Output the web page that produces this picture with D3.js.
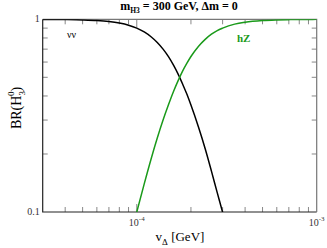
<!DOCTYPE html>
<html><head><meta charset="utf-8">
<script src="https://cdn.jsdelivr.net/npm/d3@7"></script>
<style>body{margin:0;background:#fff}svg{display:block}</style>
</head><body>
<script>
const vDelta = [3e-5,4e-5,5e-5,6e-5,7e-5,8e-5,9e-5,1e-4,1.1e-4,1.2e-4,1.3e-4,1.4e-4,1.5e-4,1.6e-4,1.7e-4,1.8e-4,1.9e-4,2e-4,2.2e-4,2.4e-4,2.6e-4,2.8e-4,3e-4,3.5e-4,4e-4,5e-4,6e-4,7e-4,8e-4,9e-4,1e-3];
const brNuNu = [0.999,0.997,0.993,0.986,0.974,0.956,0.932,0.900,0.860,0.812,0.758,0.700,0.640,0.578,0.518,0.460,0.408,0.359,0.277,0.213,0.163,0.126,0.0996,0.056,0.034,0.014,0.0069,0.0037,0.0022,0.0014,0.0009];
const brHZ = [0.001,0.003,0.007,0.014,0.026,0.044,0.068,0.100,0.140,0.188,0.242,0.300,0.360,0.422,0.482,0.540,0.592,0.641,0.723,0.787,0.837,0.874,0.900,0.944,0.966,0.986,0.993,0.996,0.998,0.9986,0.9991];
const xTickLabels = [1e-4, 1e-3];
const yTickLabels = ["0.1","1"];

const W=327,H=248, m={l:42.7,r:10.3,t:19.3,b:36};
const svg=d3.select("body").append("svg").attr("width",W).attr("height",H);
const x=d3.scaleLog().domain([3e-5,1e-3]).range([m.l,W-m.r]);
const y=d3.scaleLog().domain([0.1,1]).range([H-m.b,m.t]);
const serif="'Liberation Serif','DejaVu Serif',serif";

svg.append("defs").append("clipPath").attr("id","c").append("rect")
 .attr("x",m.l).attr("y",m.t).attr("width",W-m.l-m.r).attr("height",H-m.t-m.b);

const minorX=[4e-5,5e-5,6e-5,7e-5,8e-5,9e-5,2e-4,3e-4,4e-4,5e-4,6e-4,7e-4,8e-4,9e-4];
const minorY=[0.2,0.3,0.4,0.5,0.6,0.7,0.8,0.9];
const tc="#888";
const g=svg.append("g");
minorX.forEach(v=>{
 g.append("line").attr("x1",x(v)).attr("x2",x(v)).attr("y1",y(0.1)).attr("y2",y(0.1)-5).attr("stroke",tc);
 g.append("line").attr("x1",x(v)).attr("x2",x(v)).attr("y1",y(1)).attr("y2",y(1)+5).attr("stroke",tc);
});
[1e-4].forEach(v=>{
 g.append("line").attr("x1",x(v)).attr("x2",x(v)).attr("y1",y(0.1)).attr("y2",y(0.1)-8).attr("stroke",tc);
 g.append("line").attr("x1",x(v)).attr("x2",x(v)).attr("y1",y(1)).attr("y2",y(1)+8).attr("stroke",tc);
});
minorY.forEach(v=>{
 g.append("line").attr("y1",y(v)).attr("y2",y(v)).attr("x1",x(3e-5)).attr("x2",x(3e-5)+5).attr("stroke",tc);
 g.append("line").attr("y1",y(v)).attr("y2",y(v)).attr("x1",x(1e-3)).attr("x2",x(1e-3)-5).attr("stroke",tc);
});
g.append("path").attr("d",`M${m.l},${m.t}V${H-m.b}H${W-m.r}`).attr("fill","none").attr("stroke","#222").attr("stroke-width",1.2);
g.append("path").attr("d",`M${m.l},${m.t}H${W-m.r}V${H-m.b}`).attr("fill","none").attr("stroke","#777").attr("stroke-width",1.2);

const line=(arr)=>d3.line().x((d,i)=>x(vDelta[i])).y(d=>y(Math.max(d,0.05))).curve(d3.curveMonotoneX)(arr);
const lg=svg.append("g").attr("clip-path","url(#c)");
lg.append("path").attr("d",line(brNuNu)).attr("fill","none").attr("stroke","#000").attr("stroke-width",1.5);
lg.append("path").attr("d",line(brHZ)).attr("fill","none").attr("stroke","#1a9a1a").attr("stroke-width",1.5);

svg.append("text").attr("x",m.l-3).attr("y",y(1)+3).attr("text-anchor","end").attr("font-family",serif).attr("font-size",10).attr("fill","#333").text(yTickLabels[1]);
svg.append("text").attr("x",m.l-3).attr("y",y(0.1)+3).attr("text-anchor","end").attr("font-family",serif).attr("font-size",10).attr("fill","#333").text(yTickLabels[0]);
xTickLabels.forEach(v=>{
 const t=svg.append("text").attr("x",x(v)).attr("y",H-m.b+14).attr("text-anchor","middle").attr("font-family",serif).attr("font-size",10).attr("fill","#333");
 t.append("tspan").text("10");
 t.append("tspan").attr("dy",-5).attr("font-size",7).text("-"+Math.round(-Math.log10(v)));
});
const tt=svg.append("text").attr("x",179).attr("y",10).attr("text-anchor","middle").attr("font-family",serif).attr("font-size",12).attr("font-weight","bold");
tt.append("tspan").text("m");
tt.append("tspan").attr("font-size",7.5).attr("dy",3).text("H3");
tt.append("tspan").attr("dy",-3).text(" = 300 GeV, \u0394m = 0");
const xl=svg.append("text").attr("x",180).attr("y",241).attr("text-anchor","middle").attr("font-family",serif).attr("font-size",13);
xl.append("tspan").text("v");
xl.append("tspan").attr("font-size",9).attr("dy",4).text("\u0394");
xl.append("tspan").attr("dy",-4).text(" [GeV]");
const yl=svg.append("text").attr("transform","translate(21,108) rotate(-90)").attr("text-anchor","middle").attr("font-family",serif).attr("font-size",14);
yl.append("tspan").text("BR(H");
yl.append("tspan").attr("font-size",9).attr("dy",4).text("3");
yl.append("tspan").attr("font-size",9).attr("dx",-5).attr("dy",-11).text("0");
yl.append("tspan").attr("dy",7).text(")");
svg.append("text").attr("x",67).attr("y",38).attr("font-family",serif).attr("font-size",10).text("\u03bd\u03bd");
svg.append("text").attr("x",237).attr("y",42).attr("font-family",serif).attr("font-size",11).attr("font-weight","bold").attr("fill","#1a9a1a").text("hZ");
</script>
</body></html>
